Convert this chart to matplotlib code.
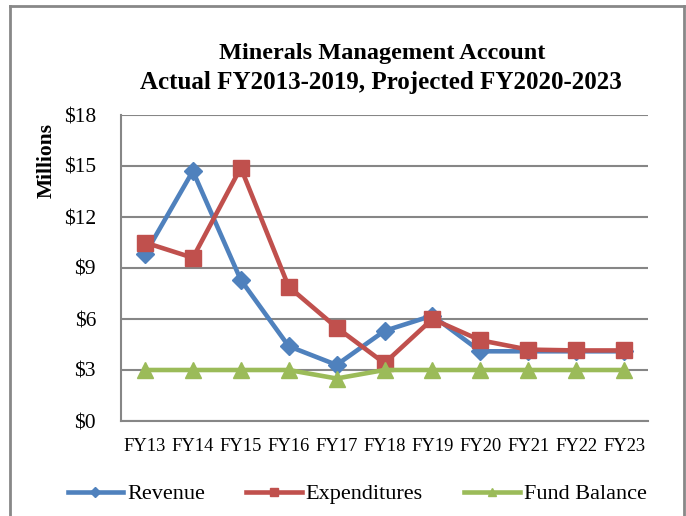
import matplotlib
matplotlib.use("Agg")
import matplotlib.pyplot as plt
from matplotlib.lines import Line2D

categories = ["FY13", "FY14", "FY15", "FY16", "FY17", "FY18", "FY19", "FY20", "FY21", "FY22", "FY23"]
revenue = [9.8, 14.7, 8.3, 4.4, 3.3, 5.3, 6.2, 4.1, 4.1, 4.1, 4.1]
expenditures = [10.5, 9.6, 14.9, 7.9, 5.5, 3.4, 6.0, 4.75, 4.2, 4.15, 4.15]
fund_balance = [3.0, 3.0, 3.0, 3.0, 2.5, 3.0, 3.0, 3.0, 3.0, 3.0, 3.0]
yticks = [0, 3, 6, 9, 12, 15, 18]
ytick_labels = ["$0", "$3", "$6", "$9", "$12", "$15", "$18"]

W, H = 686, 516
fig = plt.figure(figsize=(W / 100, H / 100), dpi=100)
serif = "Liberation Serif"

left, right, top, bottom = 121, 648, 115, 421
ax = fig.add_axes([left / W, 1 - bottom / H, (right - left) / W, (bottom - top) / H])

blue, red, green = "#4F81BD", "#C0504D", "#9BBB59"
x = list(range(len(categories)))
ax.plot(x, revenue, color=blue, lw=3.3, marker="D", ms=9.5, zorder=3)
ax.plot(x, expenditures, color=red, lw=3.3, marker="s", ms=11.5, zorder=4)
ax.plot(x, fund_balance, color=green, lw=3.3, marker="^", ms=11.5, zorder=5)

ax.set_xlim(-0.5, len(categories) - 0.5)
ax.set_ylim(0, 18)
ax.set_yticks(yticks)
ax.set_yticklabels(ytick_labels, family=serif, fontsize=15.5)
ax.set_xticks(x)
ax.set_xticklabels(categories, family=serif, fontsize=13.3)
ax.tick_params(axis="both", length=0)
ax.tick_params(axis="y", pad=18)
ax.tick_params(axis="x", pad=12)
ax.grid(axis="y", color="#868686", lw=1.5)
ax.set_axisbelow(True)
for s in ["top", "right"]:
    ax.spines[s].set_visible(False)
for s in ["left", "bottom"]:
    ax.spines[s].set_color("#868686")
    ax.spines[s].set_linewidth(1.5)

fig.text(382 / W, 1 - 54 / H, "Minerals Management Account", ha="center", va="center",
         family=serif, fontsize=17.5, fontweight="bold")
fig.text(381 / W, 1 - 82 / H, "Actual FY2013-2019, Projected FY2020-2023", ha="center", va="center",
         family=serif, fontsize=18, fontweight="bold")
fig.text(47 / W, 1 - 161 / H, "Millions", rotation=90, ha="center", va="center",
         family=serif, fontsize=15.5, fontweight="bold")

handles = [
    Line2D([], [], color=blue, lw=3.3, marker="D", ms=5),
    Line2D([], [], color=red, lw=3.3, marker="s", ms=6),
    Line2D([], [], color=green, lw=3.3, marker="^", ms=6),
]
fig.legend(handles, ["Revenue", "Expenditures", "Fund Balance"], loc="center",
           bbox_to_anchor=(357 / W, 1 - 494 / H), ncol=3, frameon=False,
           prop={"family": serif, "size": 16}, handlelength=2.5, handletextpad=0.18,
           columnspacing=1.85)

# outer chart border
bc = "#888888"
fig.add_artist(Line2D([10 / W, 10 / W], [0, 1 - 6 / H], color=bc, lw=2, transform=fig.transFigure))
fig.add_artist(Line2D([10 / W, 684 / W], [1 - 6 / H, 1 - 6 / H], color=bc, lw=2, transform=fig.transFigure))
fig.add_artist(Line2D([684 / W, 684 / W], [0, 1 - 6 / H], color=bc, lw=2, transform=fig.transFigure))

fig.savefig("out.png", dpi=100)
